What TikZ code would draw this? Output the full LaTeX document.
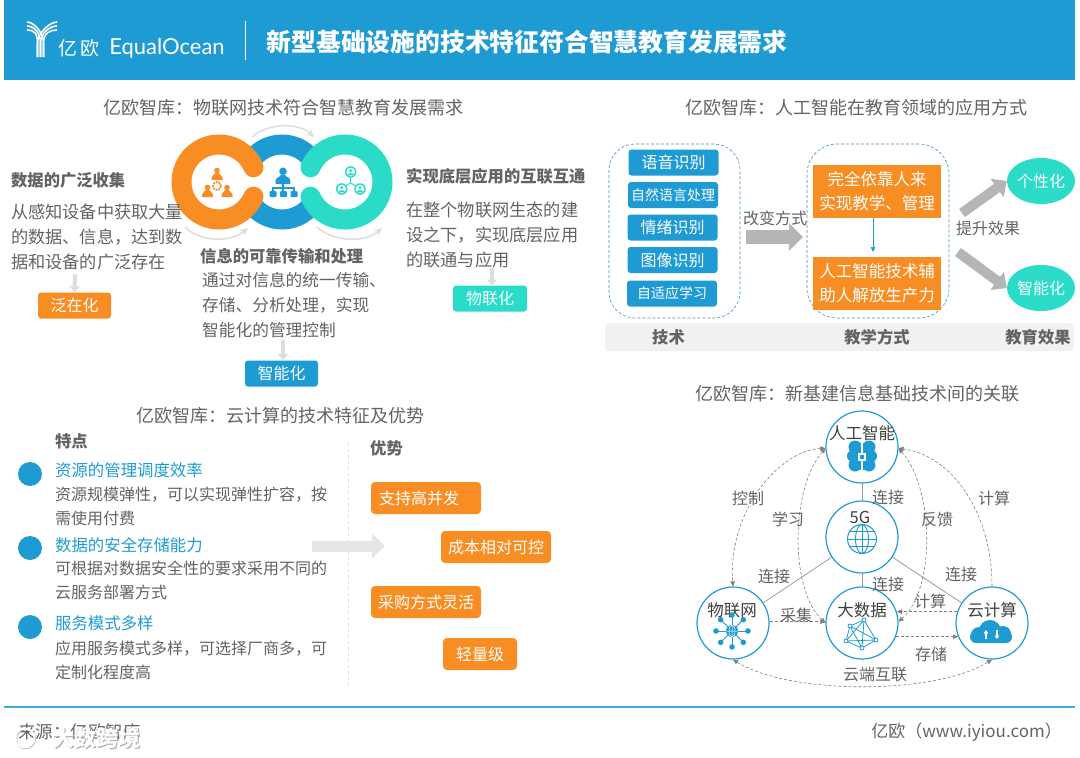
\documentclass[tikz,border=0pt]{standalone}
\usepackage{fontspec}
\setmainfont{Noto Sans CJK SC}
\newfontfamily\logofont{Lato}
\usetikzlibrary{arrows.meta,shapes.geometric}
\definecolor{bleu}{HTML}{1F9BD3}
\definecolor{orangeb}{HTML}{F78D23}
\definecolor{turq}{HTML}{2ADCC8}
\definecolor{gristxt}{HTML}{636363}
\definecolor{grisf}{HTML}{B5B5B5}
\definecolor{grisp}{HTML}{DDDDDD}
\definecolor{bande}{HTML}{F1F1F1}
\tikzset{
  titre/.style={font=\fontsize{18}{18}\selectfont,text=gristxt,inner sep=0pt},
  gras/.style={font=\fontsize{16.3}{16}\selectfont\bfseries,text=gristxt,inner sep=0pt,anchor=west},
  corps/.style={font=\fontsize{17.2}{25}\selectfont,text=gristxt,inner sep=0pt,anchor=west,align=left},
  corpsb/.style={font=\fontsize{16}{23.5}\selectfont,text=gristxt,inner sep=0pt,anchor=west,align=left},
  titb/.style={font=\fontsize{16.4}{16}\selectfont,text=bleu,inner sep=0pt,anchor=west},
  etiq/.style={font=\fontsize{16}{16}\selectfont,text=gristxt,inner sep=0pt},
  nomc/.style={font=\fontsize{16.5}{16}\selectfont,text=black!75,inner sep=0pt},
  boite/.style={fill=#1,rounded corners=3pt,text=white,inner sep=0pt,font=\fontsize{16}{16}\selectfont,minimum height=26pt},
  boiteb/.style={boite=bleu,minimum width=90pt},
  boiteo/.style={fill=orangeb,text=white,inner sep=0pt,font=\fontsize{16.5}{24}\selectfont,align=center,minimum width=128pt,minimum height=53pt},
  boitev/.style={boite=orangeb,minimum height=32pt,rounded corners=4pt},
  tirets/.style={draw=bleu!65!gray,densely dashed,line width=0.6pt,rounded corners=26pt,inner sep=0pt},
  rond/.style={circle,draw=bleu,line width=1.2pt,fill=white,minimum size=72pt,inner sep=0pt},
  ovale/.style={ellipse,fill=turq,text=white,inner sep=0pt,minimum width=68pt,minimum height=46pt,font=\fontsize{16}{16}\selectfont},
  puce/.style={circle,fill=bleu,minimum size=24pt,inner sep=0pt},
  trait/.style={draw=gray!80,line width=0.8pt},
  lien/.style={draw=gray,densely dashed,line width=0.6pt,>={Triangle[length=5pt,width=4.5pt]}},
  grosse/.style={draw=grisf,line width=10pt,-{Triangle[length=12pt,width=22pt]}},
  petite/.style={draw=grisp,line width=4pt,-{Triangle[length=6pt,width=10pt]}},
  courbe/.style={draw=grisp,line width=1.5pt,-{Stealth[length=8pt,width=7pt]}},
  pics/pers/.style={code={
    \fill[#1] (0,-3.5) circle (2.8pt);
    \fill[#1] (-5.5,6) -- (-5.5,3.5) .. controls (-5.5,1) and (-2,1) .. (-1.5,-1) -- (1.5,-1) .. controls (2,1) and (5.5,1) .. (5.5,3.5) -- (5.5,6) -- cycle;
  }},
  pics/equipe/.style={code={
    \fill[turq] (0,0) circle (5.8pt);
    \fill[white] (0,0) circle (4.3pt);
    \fill[turq] (0,-1.3) circle (1.7pt);
    \fill[turq] (-3,3.3) -- (-3,2.3) .. controls (-3,0.8) and (3,0.8) .. (3,2.3) -- (3,3.3) -- cycle;
  }},
}
\begin{document}
\begin{tikzpicture}[x=1pt,y=-1pt]
    \useasboundingbox (0,0) rectangle (1080,758);
    % bandeau
    \fill[bleu] (4,0) rectangle (1075,80);
    \foreach \d in {-3,0,3} {
      \draw[white,line width=1.6pt] (40.5+\d,57) -- (40.5+\d,43) .. controls (40.5+\d,33) and (34,26-1.33*\d) .. (27,26-1.33*\d);
      \draw[white,line width=1.6pt] (40.5+\d,57) -- (40.5+\d,43) .. controls (40.5+\d,33) and (50,26+1.33*\d) .. (57,26+1.33*\d);
    }
    \node[inner sep=0pt,text=white,font=\fontsize{19}{19}\selectfont] (logoyo) at (79,48) {亿\hspace{3pt}欧};
    \node[inner sep=0pt,text=white,font=\logofont\fontsize{22}{22}\selectfont] (logoeq) at (167,48) {EqualOcean};
    \draw[white,line width=0.8pt] (245.5,21) -- (245.5,60);
    \node[inner sep=0pt,text=white,font=\fontsize{24.8}{25}\selectfont\bfseries] (grandtitre) at (527,42) {新型基础设施的技术特征符合智慧教育发展需求};
    % titres des parties
    \node[titre] (titreiot) at (283,108) {亿欧智库：物联网技术符合智慧教育发展需求};
    \node[titre] (titreia) at (856,108) {亿欧智库：人工智能在教育领域的应用方式};
    \node[titre] (titrenuage) at (280,416) {亿欧智库：云计算的技术特征及优势};
    \node[titre] (titrelien) at (857,394) {亿欧智库：新基建信息基础技术间的关联};
    % anneaux
    \draw[bleu,line width=20pt] (282,182) ++(38:37.5pt) arc[start angle=38,end angle=142,radius=37.5pt];
    \draw[bleu,line width=20pt] (282,182) ++(218:37.5pt) arc[start angle=218,end angle=322,radius=37.5pt];
    \draw[orangeb,line width=20pt,line cap=round] (219,182) ++(23:37.5pt) arc[start angle=23,end angle=337,radius=37.5pt];
    \draw[turq,line width=20pt,line cap=round] (345,182) ++(157:37.5pt) arc[start angle=157,end angle=-157,radius=37.5pt];
    \draw[courbe] (252,137) .. controls (268,123) and (298,122) .. (314,137);
    \draw[courbe] (185,227) .. controls (200,242) and (230,243) .. (248,228);
    \draw[courbe] (317,227) .. controls (333,242) and (365,243) .. (382,228);
    % icones des anneaux
    \pic at (217,174) {pers=orangeb};
    \pic at (207.5,191) {pers=orangeb};
    \pic at (227,191) {pers=orangeb};
    \draw[orangeb,line width=1.8pt,densely dotted] (217,186) circle (4pt);
    \pic[scale=1.35] at (283,176) {pers=bleu};
    \draw[bleu,line width=1.2pt] (283,184) -- (283,192) (273,192) -- (273,188) -- (294,188) -- (294,192);
    \foreach \x in {273,283.5,294} \fill[bleu,rounded corners=1pt] (\x-3.5,191) rectangle (\x+3.5,197);
    \draw[turq,line width=1pt] (350.7,183) -- (350.7,176) (350.7,183) -- (343,187) (350.7,183) -- (358,187);
    \pic at (350.7,172) {equipe};
    \pic at (341.7,189) {equipe};
    \pic at (360,189) {equipe};
    % colonne gauche
    \node[gras] (collecte) at (11,180) {数据的广泛收集};
    \node[corps] (collecteb) at (11,237) {从感知设备中获取大量\\的数据、信息，达到数\\据和设备的广泛存在};
    \node[boite=orangeb,minimum width=73pt] (fanzai) at (74.5,305.5) {泛在化};
    \coordinate (fanzaih) at (75,274);
    \draw[petite] (fanzaih) -- (fanzai.north);
    % colonne milieu
    \node[gras] (transm) at (200,256) {信息的可靠传输和处理};
    \node[corps,font=\fontsize{16.7}{25}\selectfont] (transmb) at (202,305) {通过对信息的统一传输、\\存储、分析处理，实现\\智能化的管理控制};
    \node[boite=bleu,minimum width=73pt] (zhineng) at (281.5,373.5) {智能化};
    \coordinate (zhinengh) at (283,340);
    \draw[petite] (zhinengh) -- (283,360);
    % colonne droite
    \node[gras] (appli) at (406,176) {实现底层应用的互联互通};
    \node[corps] (applib) at (406,235) {在整个物联网生态的建\\设之下，实现底层应用\\的联通与应用};
    \node[boite=turq,minimum width=74pt] (wulian) at (490,298.5) {物联化};
    \coordinate (wulianh) at (492,268);
    \draw[petite] (wulianh) -- (492,285.5);
    % ia : technique
    \node[tirets,minimum width=131pt,minimum height=174pt] (cadretech) at (674.5,231) {};
    \node[boiteb] (voix) at (673.5,162.5) {语音识别};
    \node[boiteb,font=\fontsize{14}{14}\selectfont] (langue) at (673,195) {自然语言处理};
    \node[boiteb] (emotion) at (672.5,227.5) {情绪识别};
    \node[boiteb] (image) at (672.5,260) {图像识别};
    \node[boiteb,font=\fontsize{14}{14}\selectfont] (adapt) at (672,293.5) {自适应学习};
    % ia : enseignement
    \node[tirets,minimum width=142pt,minimum height=174pt,rounded corners=30pt] (cadreens) at (878,231) {};
    \node[boiteo] (humain) at (877,191) {完全依靠人来\\实现教学、管理};
    \node[boiteo] (assiste) at (877,283) {人工智能技术辅\\助人解放生产力};
    \draw[bleu,line width=0.7pt,-{Triangle[length=5pt,width=4.5pt]}] (humain.south -| 873,217) -- (873,252);
    \node[etiq] (change) at (775,218) {改变方式};
    \coordinate (chgdep) at (746,237);
    \coordinate (chgfin) at (803,237);
    \draw[grosse,line width=14pt,-{Triangle[length=14pt,width=27pt]}] (chgdep) -- (chgfin);
    % ia : effets
    \node[ovale] (perso) at (1041,181) {个性化};
    \node[ovale] (intel) at (1041,288) {智能化};
    \coordinate (effdep) at (962,213);
    \coordinate (effdepb) at (958,252);
    \draw[grosse] (effdep) -- (perso.west);
    \draw[grosse] (effdepb) -- (intel.west);
    \node[etiq] (effet) at (988,228) {提升效果};
    % bande du bas
    \fill[bande,rounded corners=4pt] (605,323) rectangle (1074,351);
    \node[gras,anchor=center] (labtech) at (668.5,337) {技术};
    \node[gras,anchor=center] (labens) at (877,337) {教学方式};
    \node[gras,anchor=center] (labeff) at (1038,337) {教育效果};
    % nuage : caracteristiques
    \node[gras] (traits) at (55,441) {特点};
    \node[puce] (puceun) at (30,474) {};
    \node[puce] (pucedeux) at (30,548) {};
    \node[puce] (pucetrois) at (30,627) {};
    \node[titb] (ressource) at (55,470) {资源的管理调度效率};
    \node[corpsb] (ressourceb) at (55,506.5) {资源规模弹性，可以实现弹性扩容，按\\需使用付费};
    \node[titb] (securite) at (55,545) {数据的安全存储能力};
    \node[corpsb] (securiteb) at (55,580.5) {可根据对数据安全性的要求采用不同的\\云服务部署方式};
    \node[titb] (service) at (55,623) {服务模式多样};
    \node[corpsb] (serviceb) at (55,660.5) {应用服务模式多样，可选择厂商多，可\\定制化程度高};
    % nuage : avantages
    \draw[grisp,dashed,line width=0.7pt] (348,443) -- (348,688);
    \coordinate (avdep) at (312,546);
    \coordinate (avfin) at (385,546);
    \draw[draw=black!10,line width=11pt,-{Triangle[length=13pt,width=24pt]}] (avdep) -- (avfin);
    \node[gras] (atouts) at (370,448) {优势};
    \node[boitev,minimum width=110pt,text width=94pt,align=left] (concur) at (426,498) {支持高并发};
    \node[boitev,minimum width=110pt] (cout) at (496,547) {成本相对可控};
    \node[boitev,minimum width=110pt] (achat) at (426,602) {采购方式灵活};
    \node[boitev,minimum width=74pt] (leger) at (480,654) {轻量级};
    % reseau
    \node[rond] (ia) at (862,447) {};
    \node[rond] (cinqg) at (862,537) {};
    \node[rond] (iot) at (733,623) {};
    \node[rond] (data) at (862,623) {};
    \node[rond] (cloud) at (992,623) {};
    \draw[trait] (ia) -- (cinqg);
    \draw[trait] (cinqg) -- (data);
    \draw[trait] (cinqg) -- (iot);
    \draw[trait] (cinqg) -- (cloud);
    \draw[lien,<->] (ia.182) .. controls (780,450) and (728,510) .. (iot.north);
    \draw[lien,<->] (ia.182) .. controls (790,490) and (790,590) .. (data.180);
    \draw[lien,<->] (ia.-2) .. controls (935,490) and (935,590) .. (data.2);
    \draw[lien,->] (cloud.north) .. controls (992,510) and (950,455) .. (ia.-2);
    \draw[lien,->] (iot.2) -- (data.178);
    \draw[lien,->] (cloud.162) -- (data.18);
    \draw[lien,->] (data.-22) -- (cloud.202);
    \draw[lien,<->] (iot.south) .. controls (790,695) and (935,695) .. (cloud.south);
    \node[nomc] (nomia) at (862,433) {人工智能};
    \node[nomc] (nomcinq) at (860,517) {5G};
    \node[nomc] (nomiot) at (732,610) {物联网};
    \node[nomc] (nomdata) at (862,610) {大数据};
    \node[nomc] (nomcloud) at (992,610) {云计算};
    % etiquettes du reseau
    \node[etiq] (eun) at (888,497) {连接};
    \node[etiq] (controle) at (748,498) {控制};
    \node[etiq] (appr) at (788,519) {学习};
    \node[etiq] (retour) at (937,519) {反馈};
    \node[etiq] (calcun) at (994,498) {计算};
    \node[etiq] (edeux) at (774,576) {连接};
    \node[etiq] (etrois) at (888,584) {连接};
    \node[etiq] (equatre) at (961,574) {连接};
    \node[etiq] (calcdeux) at (930,601) {计算};
    \node[etiq] (collect) at (796,615) {采集};
    \node[etiq] (stock) at (931,654) {存储};
    \node[etiq] (interco) at (875,674) {云端互联};
    % cerveau
    \foreach \s in {-1,1} {
      \fill[bleu] (862+7*\s,447) circle (6.5pt);
      \fill[bleu] (862+9*\s,456) circle (6pt);
      \fill[bleu] (862+7*\s,465) circle (6.5pt);
      \fill[bleu] (862+1*\s,443) rectangle (862+10*\s,470);
    }
    \fill[white] (861.3,441) rectangle (862.7,472);
    \fill[white] (858,453) rectangle (866,461);
    \fill[bleu] (860,455) rectangle (864,459);
    % globe
    \draw[bleu,line width=1pt] (862,539) circle (14.5pt);
    \draw[bleu,line width=0.9pt] (862,539) ellipse (6.5pt and 14.5pt);
    \draw[bleu,line width=0.9pt] (862,524.5) -- (862,553.5) (847.5,539) -- (876.5,539) (850,531.5) -- (874,531.5) (850,546.5) -- (874,546.5);
    % objets
    \foreach \a in {0,45,...,315} {
      \draw[bleu,line width=1pt] (732,631) ++(\a:6pt) -- ++(\a:9pt);
      \fill[bleu] (732,631) ++(\a:16pt) circle (2.8pt);
    }
    \fill[bleu] (732,631) circle (6pt);
    \draw[white,line width=0.5pt] (732,625) -- (732,637) (726,631) -- (738,631) (732,631) ellipse (3pt and 6pt);
    % donnees
    \coordinate (da) at (864,620);
    \coordinate (db) at (850,626);
    \coordinate (dc) at (846,641);
    \coordinate (dd) at (862,648);
    \coordinate (de) at (876,640);
    \foreach \p/\q in {da/db,da/dc,da/dd,da/de,db/dc,db/dd,db/de,dc/dd,dc/de,dd/de}
      \draw[bleu,line width=0.8pt] (\p) -- (\q);
    \foreach \p in {da,db,dc,dd,de}
      \filldraw[draw=bleu,fill=white,line width=0.8pt] (\p) circle (2pt);
    % nuage
    \fill[bleu,rounded corners=6pt] (970,631) rectangle (1012,643);
    \fill[bleu] (990,631) circle (11pt);
    \fill[bleu] (1003,634) circle (8pt);
    \fill[bleu] (979,635) circle (8pt);
    \draw[white,line width=1.2pt,-{Triangle[length=3.5pt,width=4.5pt]}] (986,639) -- (986,630);
    \draw[white,line width=1.2pt,-{Triangle[length=3.5pt,width=4.5pt]}] (997,630) -- (997,639);
    % pied de page
    \draw[bleu!85!white,line width=1.6pt] (4,707) -- (1075,707);
    \node[etiq,font=\fontsize{17.5}{17}\selectfont,anchor=west] (source) at (18,732) {来源：亿欧智库};
    \node[etiq,font=\fontsize{17}{17}\selectfont,anchor=east] (site) at (1062,732) {亿欧（www.iyiou.com）};
    % filigrane
    \draw[black!35,line width=2pt] (25.6,738.6) circle (9.5pt);
    \draw[white,line width=2pt] (25,738) circle (9.5pt);
    \node[inner sep=0pt,text=black!35,font=\fontsize{22}{22}\selectfont\bfseries] (ombre) at (97,739) {大数跨境};
    \node[inner sep=0pt,text=white,font=\fontsize{22}{22}\selectfont\bfseries] (filigrane) at (96.4,738.4) {大数跨境};
\end{tikzpicture}
\end{document}
